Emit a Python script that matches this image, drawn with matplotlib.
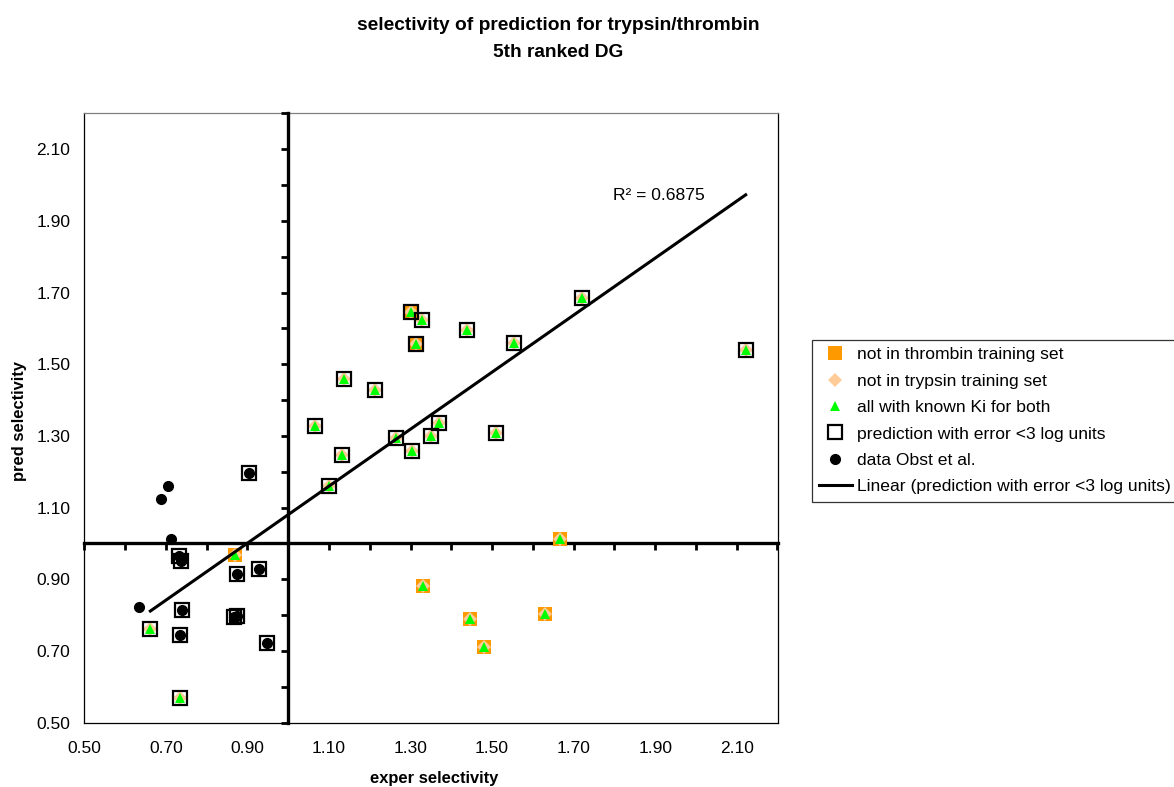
import matplotlib.pyplot as plt
import numpy as np

plt.rcParams['font.family'] = ['Liberation Sans', 'DejaVu Sans']

# not in thrombin training set (orange squares)
thrombin_x = [1.330, 1.445, 1.481, 1.630, 1.667, 1.301, 1.313, 0.869]
thrombin_y = [0.880, 0.788, 0.712, 0.802, 1.012, 1.646, 1.556, 0.967]

# not in trypsin training set (peach diamonds)
trypsin_x = [1.721, 1.301, 1.328, 1.438, 1.554, 1.313, 2.122, 1.138, 1.213, 1.065, 1.371, 1.350, 1.510,
             1.265, 1.303, 1.133, 1.101, 1.330, 1.445, 1.481, 1.630, 1.667, 0.662, 0.735, 0.869]
trypsin_y = [1.684, 1.646, 1.623, 1.596, 1.558, 1.556, 1.539, 1.458, 1.428, 1.327, 1.335, 1.301, 1.308,
             1.295, 1.258, 1.246, 1.159, 0.880, 0.788, 0.712, 0.802, 1.012, 0.760, 0.569, 0.967]

# all with known Ki for both (green triangles)
known_x = [1.721, 1.301, 1.328, 1.438, 1.554, 1.313, 2.122, 1.138, 1.213, 1.065, 1.371, 1.350, 1.510,
           1.265, 1.303, 1.133, 1.101, 1.330, 1.445, 1.481, 1.630, 1.667, 0.662, 0.735, 0.869]
known_y = [1.684, 1.646, 1.623, 1.596, 1.558, 1.556, 1.539, 1.458, 1.428, 1.327, 1.335, 1.301, 1.308,
           1.295, 1.258, 1.246, 1.159, 0.880, 0.788, 0.712, 0.802, 1.012, 0.760, 0.569, 0.967]

# prediction with error <3 log units (hollow squares)
err_x = [1.721, 1.301, 1.328, 1.438, 1.554, 1.313, 2.122, 1.138, 1.213, 1.065, 1.371, 1.350, 1.510,
         1.265, 1.303, 1.133, 1.101, 0.903, 0.732, 0.736, 0.874, 0.929, 0.739, 0.866, 0.874, 0.735,
         0.947, 0.662, 0.735]
err_y = [1.684, 1.646, 1.623, 1.596, 1.558, 1.556, 1.539, 1.458, 1.428, 1.327, 1.335, 1.301, 1.308,
         1.295, 1.258, 1.246, 1.159, 1.196, 0.965, 0.952, 0.915, 0.928, 0.813, 0.795, 0.797, 0.746,
         0.723, 0.760, 0.569]

# data Obst et al. (black circles)
obst_x = [0.635, 0.688, 0.706, 0.713, 0.903, 0.732, 0.736, 0.874, 0.929, 0.739, 0.866, 0.874, 0.735, 0.947]
obst_y = [0.824, 1.125, 1.159, 1.012, 1.196, 0.965, 0.952, 0.915, 0.928, 0.813, 0.795, 0.797, 0.746, 0.723]

r2_text = 'R² = 0.6875'

W, H = 1174, 787
fig = plt.figure(figsize=(W / 100, H / 100), dpi=100)
box = [84.3 / W, 1 - 722.7 / H, (777.5 - 84.3) / W, (722.7 - 113.3) / H]

# outer frame carrying the tick labels
frame = fig.add_axes(box)
frame.set_xlim(0.5, 2.2)
frame.set_ylim(0.5, 2.2)
lab = np.arange(0.5, 2.15, 0.2)
frame.set_xticks(lab)
frame.set_xticklabels(['%.2f' % t for t in lab])
frame.set_yticks(lab)
frame.set_yticklabels(['%.2f' % t for t in lab])
frame.tick_params(length=0, labelsize=12.5)
frame.tick_params(axis='x', pad=13)
frame.tick_params(axis='y', pad=10)
for s in frame.spines.values():
    s.set_linewidth(0.9)
frame.spines['top'].set_color('#808080')

# crossing axes at 1.0
ax = fig.add_axes(box)
ax.patch.set_visible(False)
ax.set_xlim(0.5, 2.2)
ax.set_ylim(0.5, 2.2)
ax.spines['top'].set_visible(False)
ax.spines['right'].set_visible(False)
ax.spines['left'].set_position(('data', 1.0))
ax.spines['bottom'].set_position(('data', 1.0))
ax.spines['left'].set_linewidth(2.4)
ax.spines['bottom'].set_linewidth(2.4)
tk = np.arange(0.5, 2.25, 0.1)
ax.set_xticks(tk)
ax.set_yticks(tk)
ax.tick_params(direction='out', length=5, width=2, labelleft=False, labelbottom=False)

h1, = ax.plot(thrombin_x, thrombin_y, 's', color='#FF9900', ms=10.5, mew=0, ls='none', zorder=3,
              label='not in thrombin training set')
h2, = ax.plot(trypsin_x, trypsin_y, 'D', color='#FFCC99', ms=7.5, mew=0, ls='none', zorder=4,
              label='not in trypsin training set')
h3, = ax.plot(known_x, known_y, '^', color='#00FF00', ms=7.5, mew=0, ls='none', zorder=5,
              label='all with known Ki for both')
h4, = ax.plot(err_x, err_y, 's', mfc='none', mec='black', ms=9.5, mew=1.6, ls='none', zorder=6,
              label='prediction with error <3 log units')
h5, = ax.plot(obst_x, obst_y, 'o', color='black', ms=7, ls='none', zorder=7,
              label='data Obst et al.')

# linear trendline of the "error <3" series
slope, icpt = np.polyfit(err_x, err_y, 1)
xs = np.array([min(err_x), max(err_x)])
h6, = ax.plot(xs, slope * xs + icpt, color='black', lw=2.2, zorder=8,
              label='Linear (prediction with error <3 log units)')

ax.text(1.797, 1.972, r2_text, fontsize=12.6, va='center', ha='left')

leg = ax.legend(handles=[h1, h2, h3, h4, h5, h6], loc='upper left',
                bbox_to_anchor=(811.7 / W, 1 - 340 / H), bbox_transform=fig.transFigure,
                borderaxespad=0, fontsize=12.6, frameon=True, fancybox=False,
                edgecolor='black', borderpad=0.4, labelspacing=0.64,
                handlelength=1.9, handletextpad=0.29)
leg.get_frame().set_linewidth(0.9)

fig.text(558 / W, 1 - 26 / H, 'selectivity of prediction for trypsin/thrombin',
         fontsize=13.8, fontweight='bold', ha='center', va='center')
fig.text(558 / W, 1 - 52.5 / H, '5th ranked DG',
         fontsize=13.8, fontweight='bold', ha='center', va='center')
fig.text(434 / W, 1 - 778 / H, 'exper selectivity',
         fontsize=11.9, fontweight='bold', ha='center', va='center')
fig.text(20 / W, 1 - 421 / H, 'pred selectivity',
         fontsize=11.9, fontweight='bold', ha='center', va='center', rotation=90)

fig.savefig('out.png', dpi=100)
